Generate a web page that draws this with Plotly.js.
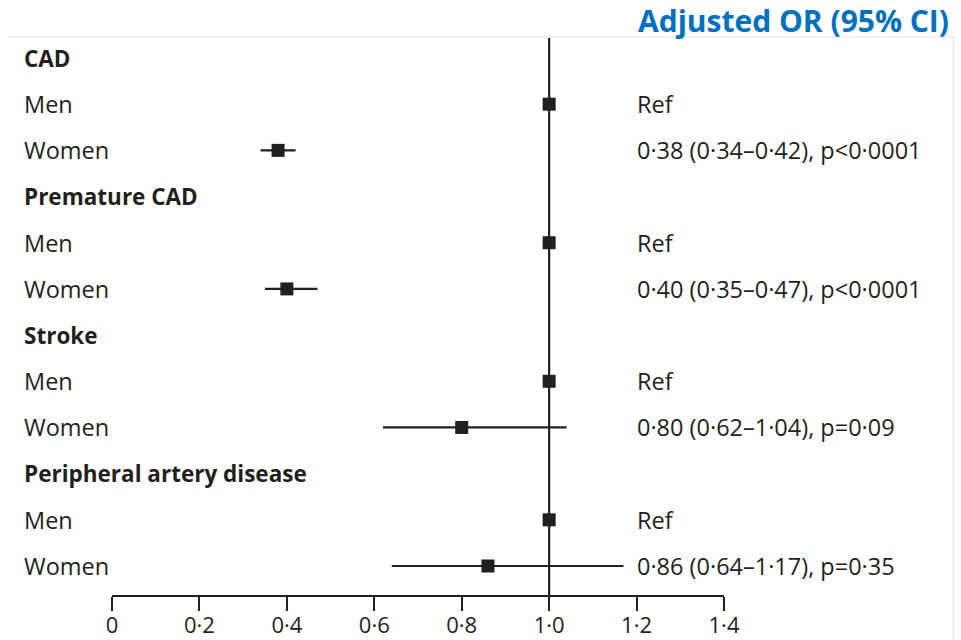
<!DOCTYPE html>
<html>
<head>
<meta charset="utf-8">
<script src="https://cdn.plot.ly/plotly-3.0.1.min.js"></script>
<style>html,body{margin:0;padding:0;background:#fff;}#chart{width:961px;height:640px;}</style>
</head>
<body>
<div id="chart"></div>
<script>
// ---- data ----
const groups = ["CAD", "Premature CAD", "Stroke", "Peripheral artery disease"];
const subgroups = ["Men", "Women"];
const menOR = [1, 1, 1, 1];
const womenOR = [0.38, 0.40, 0.80, 0.86];
const womenLow = [0.34, 0.35, 0.62, 0.64];
const womenHigh = [0.42, 0.47, 1.04, 1.17];
const womenP = ["p<0·0001", "p<0·0001", "p=0·09", "p=0·35"];
const tickVals = [0, 0.2, 0.4, 0.6, 0.8, 1.0, 1.2, 1.4];
const tickText = ["0", "0·2", "0·4", "0·6", "0·8", "1·0", "1·2", "1·4"];
const headerText = "Adjusted OR (95% CI)";

// ---- layout helpers ----
const W = 961, H = 640;
const plotL = 112, plotR = 724.5, plotT = 38, plotB = 595;
const px = p => (p - plotL) / (plotR - plotL);
const py = p => (plotB - p) / (plotB - plotT);
const dark = "#231f20";
const font = "'Open Sans', 'Noto Sans', sans-serif";
const fmt = v => v.toFixed(2).replace(".", "·");
const bodySize = 23.5, headSize = 22.5;

const menRows = groups.map((g, i) => 3 * i + 1);
const womenRows = groups.map((g, i) => 3 * i + 2);

const traces = [
  {
    type: "scatter", mode: "markers",
    x: menOR, y: menRows,
    marker: {symbol: "square", size: 13, color: dark},
    hoverinfo: "skip", showlegend: false
  },
  {
    type: "scatter", mode: "markers",
    x: womenOR, y: womenRows,
    error_x: {
      type: "data", symmetric: false,
      array: womenHigh.map((h, i) => h - womenOR[i]),
      arrayminus: womenLow.map((l, i) => womenOR[i] - l),
      color: dark, thickness: 2.2, width: 0
    },
    marker: {symbol: "square", size: 13, color: dark},
    hoverinfo: "skip", showlegend: false
  }
];

const annotations = [];
groups.forEach((g, i) => {
  annotations.push({xref: "paper", yref: "y", x: px(22), y: 3 * i, text: "<b>" + g + "</b>",
    showarrow: false, xanchor: "left", yanchor: "middle", font: {family: font, size: headSize, color: dark}});
  subgroups.forEach((s, j) => {
    annotations.push({xref: "paper", yref: "y", x: px(22), y: 3 * i + 1 + j, text: s,
      showarrow: false, xanchor: "left", yanchor: "middle", font: {family: font, size: bodySize, color: dark}});
  });
  annotations.push({xref: "paper", yref: "y", x: px(635), y: 3 * i + 1, text: "Ref",
    showarrow: false, xanchor: "left", yanchor: "middle", font: {family: font, size: bodySize, color: dark}});
  annotations.push({xref: "paper", yref: "y", x: px(635), y: 3 * i + 2,
    text: fmt(womenOR[i]) + " (" + fmt(womenLow[i]) + "–" + fmt(womenHigh[i]) + "), " + womenP[i],
    showarrow: false, xanchor: "left", yanchor: "middle", font: {family: font, size: bodySize, color: dark}});
});
annotations.push({xref: "paper", yref: "paper", x: px(952), y: py(20), text: "<b>" + headerText + "</b>",
  showarrow: false, xanchor: "right", yanchor: "middle", font: {family: font, size: 30, color: "#0070c0"}});

const rowPitch = (566 - 58) / 11;
const yTop = -(58 - plotT) / rowPitch;
const yBot = 11 + (plotB - 566) / rowPitch;

const layout = {
  width: W, height: H,
  margin: {l: plotL, r: W - plotR, t: plotT, b: H - plotB, pad: 0},
  paper_bgcolor: "#fff", plot_bgcolor: "rgba(0,0,0,0)",
  xaxis: {
    range: [0, 1.4], tickvals: tickVals, ticktext: tickText,
    showgrid: false, zeroline: false, showline: true, linecolor: dark, linewidth: 2,
    ticks: "outside", ticklen: 14, tickwidth: 2, tickcolor: dark,
    ticklabelstandoff: -4,
    tickfont: {family: font, size: 22, color: dark}, fixedrange: true
  },
  yaxis: {
    range: [yBot, yTop], visible: false, showgrid: false, zeroline: false, fixedrange: true
  },
  shapes: [
    {type: "line", xref: "x", yref: "paper", x0: 1, x1: 1, y0: 0, y1: 1, line: {color: dark, width: 2.2}, layer: "below"},
    {type: "line", xref: "paper", yref: "paper", x0: px(8), x1: px(955), y0: py(37), y1: py(37), line: {color: "#e3e3e3", width: 1}},
    {type: "line", xref: "paper", yref: "paper", x0: px(954), x1: px(954), y0: py(37), y1: py(640), line: {color: "#e3e3e3", width: 1}}
  ],
  annotations: annotations,
  showlegend: false
};

Plotly.newPlot("chart", traces, layout, {displayModeBar: false, staticPlot: true});
</script>
</body>
</html>
